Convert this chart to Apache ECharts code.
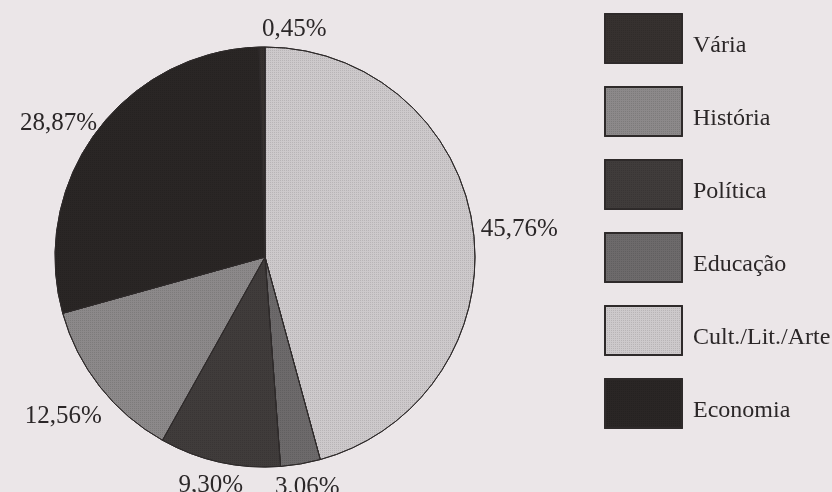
<!DOCTYPE html>
<html>
<head>
<meta charset="utf-8">
<script src="https://cdn.jsdelivr.net/npm/echarts@6/dist/echarts.min.js"></script>
<style>
html,body{margin:0;padding:0;background:#ebe6e8;}
#chart{width:832px;height:492px;}
</style>
</head>
<body>
<div id="chart"></div>
<script>
// Slice order (clockwise from 12 o'clock)
const categories = ['Cult./Lit./Arte', 'Educação', 'Política', 'História', 'Economia', 'Vária'];
const values = [45.76, 3.06, 9.30, 12.56, 28.87, 0.45];
// Legend order as printed
const legendOrder = ['Vária', 'História', 'Política', 'Educação', 'Cult./Lit./Arte', 'Economia'];
// Fill colours per category
const fills = {
  'Vária': '#36312f',
  'História': '#8c898a',
  'Política': '#403c3b',
  'Educação': '#6d6a6b',
  'Cult./Lit./Arte': '#cdc9cb',
  'Economia': '#2a2625'
};

const chart = echarts.init(document.getElementById('chart'), null, {renderer: 'canvas'});

function fmt(v) {
  return v.toFixed(2).replace('.', ',') + '%';
}

const halftone = {
  symbol: 'rect',
  symbolSize: 1,
  dashArrayX: [1, 1],
  dashArrayY: [1, 1],
  rotation: 0,
  color: 'rgba(0,0,0,0.10)'
};

const option = {
  backgroundColor: '#ebe6e8',
  animation: false,
  aria: {decal: {show: true}},
  legend: {
    data: legendOrder,
    orient: 'vertical',
    left: 599,
    top: 8,
    itemWidth: 77,
    itemHeight: 49,
    itemGap: 22,
    icon: 'rect',
    selectedMode: false,
    formatter: name => '{t|' + name + '}',
    textStyle: {
      fontFamily: 'Liberation Serif',
      fontSize: 24,
      color: '#2b2728',
      rich: {
        t: {
          fontFamily: 'Liberation Serif',
          fontSize: 24,
          color: '#2b2728',
          padding: [14, 0, 0, 6]
        }
      }
    }
  },
  series: [{
    type: 'pie',
    center: [265, 257],
    radius: 210,
    startAngle: 90,
    clockwise: true,
    avoidLabelOverlap: false,
    itemStyle: {
      borderColor: '#2e2a2a',
      borderWidth: 1
    },
    emphasis: {disabled: true},
    label: {
      show: true,
      position: 'outside',
      fontFamily: 'Liberation Serif',
      fontSize: 25,
      color: '#2b2728',
      formatter: p => fmt(p.value)
    },
    labelLine: {
      show: true,
      length: 8,
      length2: 0,
      lineStyle: {opacity: 0}
    },
    labelLayout: function (params) {
      const pts = params.labelLinePoints;
      if (!pts) return {};
      const p0 = pts[0], p1 = pts[1];
      let ux = p1[0] - p0[0], uy = p1[1] - p0[1];
      const L = Math.hypot(ux, uy) || 1;
      ux /= L; uy /= L;
      const w = params.labelRect.width, h = params.labelRect.height;
      let x, align;
      if (Math.abs(ux) < 0.1) { x = p1[0]; align = 'left'; }
      else { x = p1[0] + ux * w / 2; align = 'center'; }
      let y = p1[1] + uy * h / 2 + 3;
      if (ux < -0.5 && uy > 0.5) { y += 14; }
      return {x: x, y: y, align: align, verticalAlign: 'middle'};
    },
    data: categories.map((c, i) => ({
      name: c,
      value: values[i],
      itemStyle: {color: fills[c], decal: halftone}
    }))
  }]
};
chart.setOption(option);
</script>
</body>
</html>
